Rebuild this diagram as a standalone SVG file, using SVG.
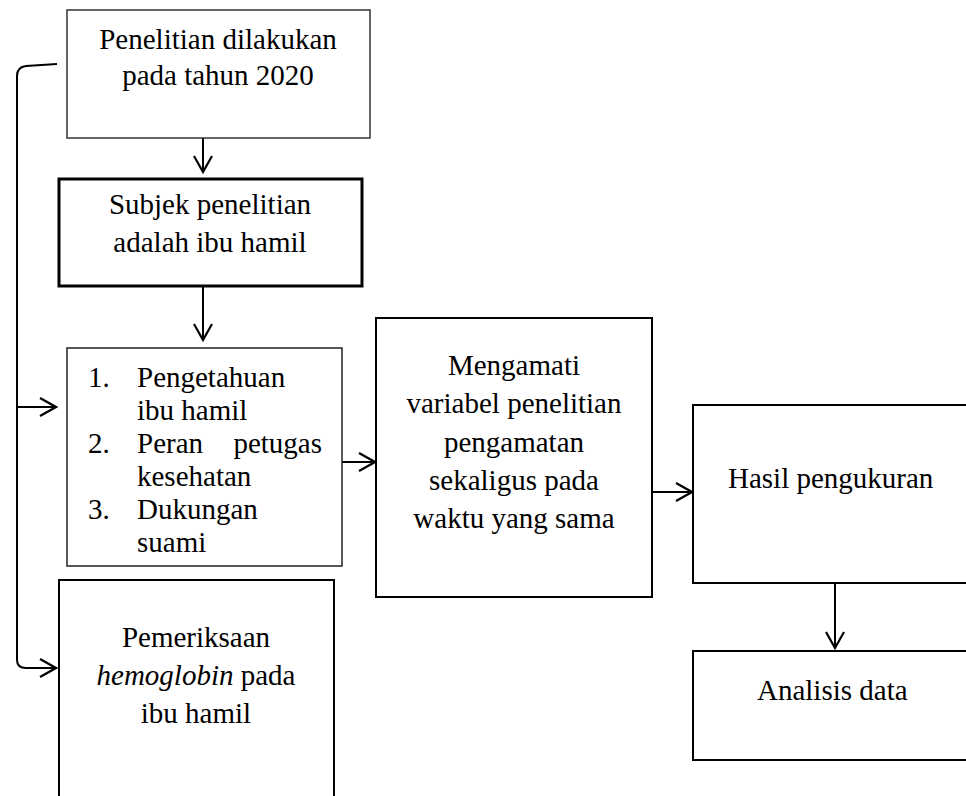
<svg xmlns="http://www.w3.org/2000/svg" width="966" height="796" viewBox="0 0 966 796">
<style>
.box{fill:#fff;stroke:#000;stroke-width:2}
.t{font-family:"Liberation Serif","Times New Roman",serif;font-size:29px;fill:#000}
.c{text-anchor:middle}
.ln{fill:none;stroke:#000;stroke-width:2}
</style>
<defs>
<marker id="ah" markerUnits="userSpaceOnUse" viewBox="-18 -11 20 22" markerWidth="20" markerHeight="22" refX="0" refY="0" orient="auto">
<path d="M-16,-9 L0,0 L-16,9" fill="none" stroke="#000" stroke-width="2.2"/>
</marker>
</defs>
<rect width="966" height="796" fill="#fff"/>
<g id="connectors">
<path class="ln" d="M57,64 L26,66 Q17,67 17,76 L17,660 Q17,668 26,668 L56,668" marker-end="url(#ah)"/>
<path class="ln" d="M17,407 L56,407" marker-end="url(#ah)"/>
<path class="ln" d="M203,138 L203,172" marker-end="url(#ah)"/>
<path class="ln" d="M203,287 L203,340" marker-end="url(#ah)"/>
<path class="ln" d="M342,462 L375,462" marker-end="url(#ah)"/>
<path class="ln" d="M652,492 L692,492" marker-end="url(#ah)"/>
<path class="ln" d="M835,583 L835,648" marker-end="url(#ah)"/>
</g>
<g id="n1">
<rect class="box" x="67" y="10" width="303" height="128" style="stroke-width:1.5;stroke:#333"/>
<text class="t c" x="218" y="49">Penelitian dilakukan</text>
<text class="t c" x="218" y="85">pada tahun 2020</text>
</g>
<g id="n2">
<rect class="box" x="59" y="179" width="303" height="107" style="stroke-width:3"/>
<text class="t c" x="210" y="214">Subjek penelitian</text>
<text class="t c" x="210" y="252">adalah ibu hamil</text>
</g>
<g id="n3">
<rect class="box" x="67" y="348" width="275" height="218" style="stroke-width:1.5;stroke:#222"/>
<text class="t" x="88" y="387">1.</text>
<text class="t" x="137" y="387">Pengetahuan</text>
<text class="t" x="137" y="420">ibu hamil</text>
<text class="t" x="88" y="453">2.</text>
<text class="t" x="137" y="453">Peran</text>
<text class="t" x="322" y="453" text-anchor="end">petugas</text>
<text class="t" x="137" y="486">kesehatan</text>
<text class="t" x="88" y="519">3.</text>
<text class="t" x="137" y="519">Dukungan</text>
<text class="t" x="137" y="552">suami</text>
</g>
<g id="n4">
<rect class="box" x="59" y="580" width="275" height="240"/>
<text class="t c" x="196" y="647">Pemeriksaan</text>
<text class="t c" x="196" y="685"><tspan font-style="italic">hemoglobin</tspan> pada</text>
<text class="t c" x="196" y="723">ibu hamil</text>
</g>
<g id="n5">
<rect class="box" x="376" y="318" width="276" height="279"/>
<text class="t c" x="514" y="375">Mengamati</text>
<text class="t c" x="514" y="413">variabel penelitian</text>
<text class="t c" x="514" y="452">pengamatan</text>
<text class="t c" x="514" y="490">sekaligus pada</text>
<text class="t c" x="514" y="528">waktu yang sama</text>
</g>
<g id="n6">
<rect class="box" x="693" y="405" width="300" height="178"/>
<text class="t" x="728" y="488">Hasil pengukuran</text>
</g>
<g id="n7">
<rect class="box" x="693" y="651" width="300" height="109"/>
<text class="t" x="757" y="700">Analisis data</text>
</g>
</svg>
